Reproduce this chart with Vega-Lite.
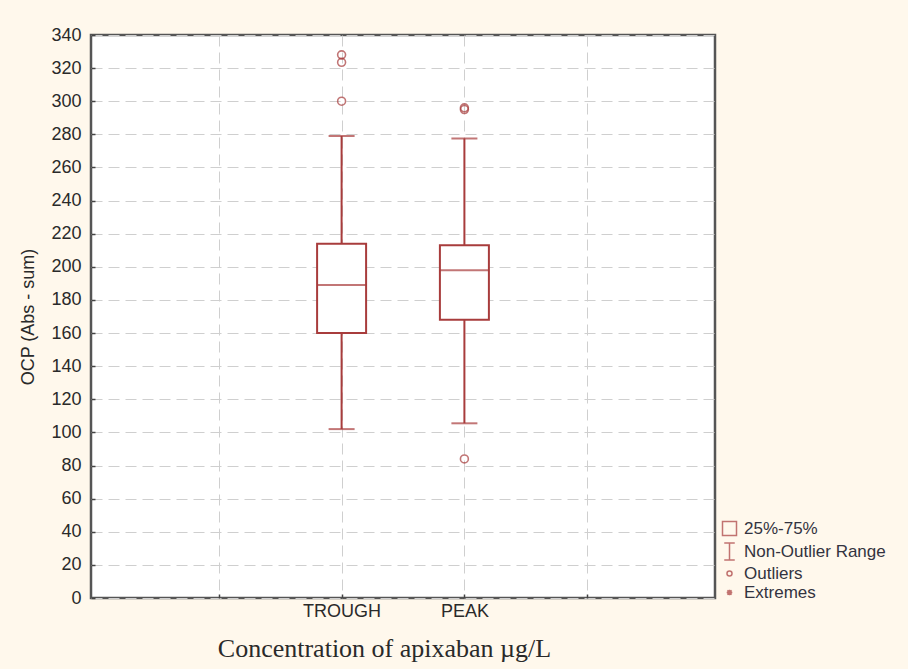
{
  "$schema": "https://vega.github.io/schema/vega-lite/v6.json",
  "width": 624,
  "height": 563,
  "autosize": {"type": "none"},
  "padding": {"left": 91, "top": 35, "right": 193, "bottom": 71},
  "background": "#fff8ec",
  "datasets": {
    "boxes": [
      {"group": "TROUGH", "pos": 2, "lo": 102, "q1": 160, "median": 189, "q3": 214, "hi": 279},
      {"group": "PEAK", "pos": 3, "lo": 105.5, "q1": 168, "median": 198, "q3": 213, "hi": 277.5}
    ],
    "outliers": [
      {"group": "TROUGH", "pos": 2, "value": 328, "kind": "Outliers"},
      {"group": "TROUGH", "pos": 2, "value": 323.5, "kind": "Outliers"},
      {"group": "TROUGH", "pos": 2, "value": 300, "kind": "Outliers"},
      {"group": "PEAK", "pos": 3, "value": 296, "kind": "Outliers"},
      {"group": "PEAK", "pos": 3, "value": 295, "kind": "Outliers"},
      {"group": "PEAK", "pos": 3, "value": 84, "kind": "Outliers"}
    ]
  },
  "config": {
    "view": {"fill": "white", "stroke": "#555555", "strokeWidth": 2.5},
    "axis": {
      "domain": false,
      "gridColor": "#cfcfcf",
      "gridDash": [11, 6],
      "gridWidth": 1,
      "ticks": true,
      "tickSize": -4,
      "tickColor": "#444444",
      "tickWidth": 1.5,
      "labelOverlap": false,
      "labelFont": "Liberation Sans",
      "labelFontSize": 18,
      "labelColor": "#2a2a2a",
      "titleFont": "Liberation Sans",
      "titleFontSize": 18,
      "titleFontWeight": "normal",
      "titleColor": "#2a2a2a"
    },
    "legend": {
      "labelFont": "Liberation Sans",
      "labelFontSize": 17,
      "labelColor": "#333340"
    }
  },
  "encoding": {
    "x": {
      "field": "pos",
      "type": "quantitative",
      "scale": {"domain": [0, 5], "nice": false, "zero": false},
      "title": "Concentration of apixaban µg/L",
      "axis": {
        "values": [1, 2, 3, 4],
        "labelExpr": "datum.value == 2 ? 'TROUGH' : datum.value == 3 ? 'PEAK' : ''",
        "grid": true,
        "labelPadding": 8,
        "titleFont": "Liberation Serif",
        "titleFontSize": 26,
        "titleX": 293,
        "titlePadding": 15
      }
    },
    "y": {
      "field": "v",
      "type": "quantitative",
      "scale": {"domain": [0, 340], "nice": false, "zero": false},
      "title": "OCP (Abs - sum)",
      "axis": {
        "values": [0, 20, 40, 60, 80, 100, 120, 140, 160, 180, 200, 220, 240, 260, 280, 300, 320, 340],
        "labelOverlap": false,
        "grid": true,
        "labelPadding": 14,
        "titlePadding": 13
      }
    }
  },
  "layer": [
    {
      "data": {"name": "boxes"},
      "transform": [{"fold": ["lo", "hi"], "as": ["k", "v"]}],
      "mark": {"type": "line", "color": "#a83c3c", "strokeWidth": 2},
      "encoding": {
        "detail": {"field": "group"}
      }
    },
    {
      "data": {"name": "boxes"},
      "transform": [{"fold": ["lo", "hi"], "as": ["k", "v"]}],
      "mark": {"type": "tick", "orient": "horizontal", "size": 26, "thickness": 2, "color": "#a83c3c"}
    },
    {
      "data": {"name": "boxes"},
      "transform": [{"fold": ["q1"], "as": ["k", "v"]}],
      "mark": {"type": "bar", "size": 49, "fill": "white", "stroke": "#a83c3c", "strokeWidth": 2},
      "encoding": {
        "y2": {"field": "q3"}
      }
    },
    {
      "data": {"name": "boxes"},
      "transform": [{"fold": ["median"], "as": ["k", "v"]}],
      "mark": {"type": "tick", "orient": "horizontal", "size": 49, "thickness": 2, "color": "#a83c3c"}
    },
    {
      "data": {"name": "outliers"},
      "transform": [{"fold": ["value"], "as": ["k", "v"]}],
      "mark": {"type": "point", "filled": false, "stroke": "#a83c3c", "strokeWidth": 1.6, "size": 484},
      "encoding": {
        "shape": {
          "field": "kind",
          "type": "nominal",
          "scale": {
            "domain": ["25%-75%", "Non-Outlier Range", "Outliers", "Extremes"],
            "range": [
              "M-1,-1H1V1H-1Z",
              "M-0.75,-1.2H0.75M0,-1.2V1.2M-0.75,1.2H0.75",
              "M-0.36,0A0.36,0.36,0,1,1,0.36,0A0.36,0.36,0,1,1,-0.36,0Z",
              "M-0.4,0H0.4M0,-0.4V0.4M-0.3,-0.3L0.3,0.3M-0.3,0.3L0.3,-0.3"
            ]
          },
          "legend": {
            "title": null,
            "orient": "none",
            "legendX": 630,
            "legendY": 485,
            "padding": 0,
            "symbolSize": 196,
            "symbolStrokeColor": "#a83c3c",
            "symbolFillColor": "transparent",
            "symbolStrokeWidth": 1.5,
            "labelOffset": 6,
            "rowPadding": 1
          }
        }
      }
    }
  ]
}
